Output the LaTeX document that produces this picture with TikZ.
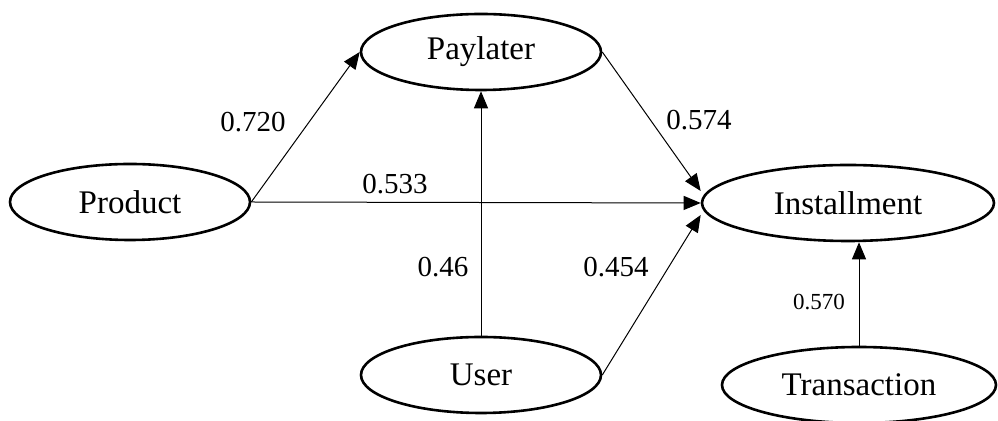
\documentclass[tikz,border=0pt]{standalone}
\usepackage{fontspec}
\setmainfont{Liberation Serif}
\usepackage{tikz}
\usetikzlibrary{shapes,arrows.meta,positioning,calc}
\tikzstyle{construct} = [ellipse, draw=black, line width=1.3pt, minimum height=38pt, inner sep=0pt, font=\fontsize{16.5}{18}\selectfont]
\tikzstyle{coef} = [inner sep=1pt, font=\fontsize{14.5}{16}\selectfont]
\tikzstyle{arrow} = [line width=0.5pt, ->, >={Triangle[length=8.5pt,width=7pt]}]

\begin{document}
\begin{tikzpicture}[x=0.5pt, y=-0.5pt]
        \useasboundingbox (0,0) rectangle (998,421);

        % Construtos
        \node (paylater) [construct, minimum width=120pt] at (481,52) {Paylater};
        \node (product) [construct, minimum width=120pt] at (130,202) {Product};
        \node (install) [construct, minimum width=146pt] at (848,203) {Installment};
        \node (user) [construct, minimum width=120pt] at (481,375) {User};
        \node (trans) [construct, minimum width=137pt] at (859,385) {Transaction};

        \coordinate (inTop) at ([yshift=6pt]install.west);
        \coordinate (inBot) at ([yshift=-6pt]install.west);
        \coordinate (inLow) at (trans.north |- install.south);

        % Linhas
        \draw [arrow] (product.east) -- (paylater.west);
        \draw [arrow] (product.east) -- (install.west);
        \draw [arrow] (paylater.east) -- (inTop);
        \draw [arrow] (user.east) -- (inBot);
        \draw [arrow] (user.north) -- (paylater.south);
        \draw [arrow] (trans.north) -- (inLow);

        % Coeficientes
        \node (c720) [coef] at (253,122) {0.720};
        \node (c533) [coef] at (395,184) {0.533};
        \node (c574) [coef] at (699,120) {0.574};
        \node (c46) [coef] at (443,267) {0.46};
        \node (c454) [coef] at (616,267) {0.454};
        \node (c570) [coef, font=\fontsize{11.5}{13}\selectfont] at (819,302) {0.570};
    \end{tikzpicture}
\end{document}
